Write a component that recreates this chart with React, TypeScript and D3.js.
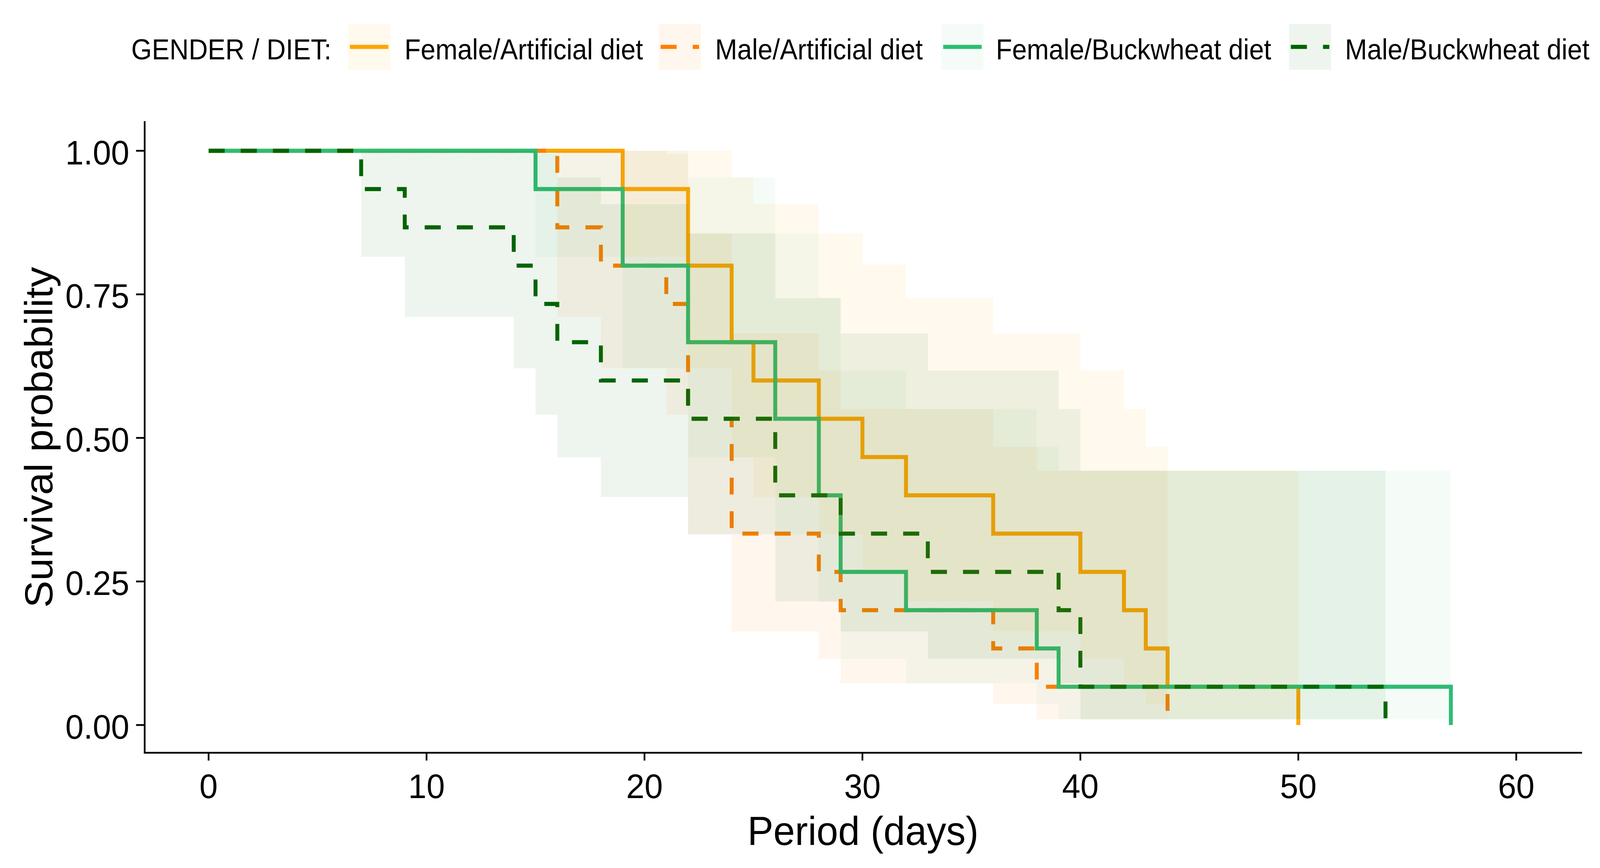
import React from "react";
import * as d3 from "d3";

// ---------- data ----------
const groups = [
  "Female/Artificial diet",
  "Male/Artificial diet",
  "Female/Buckwheat diet",
  "Male/Buckwheat diet",
];
const colors = ["#FFA500", "#FF7F00", "#2EBD74", "#006400"];
const bandOpacity = [0.065, 0.065, 0.048, 0.065];
const dashedLines = [false, true, false, true];

// Female / Artificial diet
const faTime = [0, 19, 22, 24, 25, 28, 30, 32, 36, 40, 42, 43, 44, 50];
const faSurv = [1, 0.9333, 0.8, 0.6667, 0.6, 0.5333, 0.4667, 0.4, 0.3333, 0.2667, 0.2, 0.1333, 0.0667, 0];
const faLower = [1, 0.8153, 0.6212, 0.4661, 0.3969, 0.3322, 0.2717, 0.2152, 0.163, 0.1152, 0.0727, 0.0367, 0.01, null];
const faUpper = [1, 1, 1, 0.9535, 0.907, 0.8562, 0.8016, 0.7435, 0.6818, 0.6172, 0.5503, 0.4845, 0.4428, null];

// Male / Artificial diet
const maTime = [0, 16, 18, 21, 22, 24, 28, 29, 36, 38, 44];
const maSurv = [1, 0.8667, 0.8, 0.7333, 0.5333, 0.3333, 0.2667, 0.2, 0.1333, 0.0667, 0];
const maLower = [1, 0.7106, 0.6212, 0.5404, 0.3322, 0.163, 0.1152, 0.0727, 0.0367, 0.01, null];
const maUpper = [1, 1, 1, 0.9951, 0.8562, 0.6818, 0.6172, 0.5503, 0.4845, 0.4428, null];

// Female / Buckwheat diet
const fbTime = [0, 15, 19, 22, 26, 28, 29, 32, 38, 39, 57];
const fbSurv = [1, 0.9333, 0.8, 0.6667, 0.5333, 0.4, 0.2667, 0.2, 0.1333, 0.0667, 0];
const fbLower = [1, 0.8153, 0.6212, 0.4661, 0.3322, 0.2152, 0.1152, 0.0727, 0.0367, 0.01, null];
const fbUpper = [1, 1, 1, 0.9535, 0.8562, 0.7435, 0.6172, 0.5503, 0.4845, 0.4428, null];

// Male / Buckwheat diet
const mbTime = [0, 7, 9, 14, 15, 16, 18, 22, 26, 29, 33, 39, 40, 54];
const mbSurv = [1, 0.9333, 0.8667, 0.8, 0.7333, 0.6667, 0.6, 0.5333, 0.4, 0.3333, 0.2667, 0.2, 0.0667, 0];
const mbLower = [1, 0.8153, 0.7106, 0.6212, 0.5404, 0.4661, 0.3969, 0.3322, 0.2152, 0.163, 0.1152, 0.0727, 0.01, null];
const mbUpper = [1, 1, 1, 1, 0.9951, 0.9535, 0.907, 0.8562, 0.7435, 0.6818, 0.6172, 0.5503, 0.4428, null];

const xTicks = [0, 10, 20, 30, 40, 50, 60];
const yTicks = [0, 0.25, 0.5, 0.75, 1];
const yTickLabels = ["0.00", "0.25", "0.50", "0.75", "1.00"];
const legendTitle = "GENDER / DIET:";
const xTitle = "Period (days)";
const yTitle = "Survival probability";

// ---------- layout ----------
const W = 4280;
const H = 2222;
const panel = { left: 385, right: 4232, top: 312, bottom: 1927 };
const FONT = "'Liberation Sans', Arial, Helvetica, sans-serif";
const LW = 10.5;
const DASH = "43 43";
const LEG_FONT = 75;
const LEG_SX = 0.945;

const legendBoxX = [931, 1762, 2518, 3448];
const legendLabelX = [1082, 1913, 2664, 3598];

type Series = {
  name: string;
  color: string;
  alpha: number;
  dashed: boolean;
  time: number[];
  surv: number[];
  lower: (number | null)[];
  upper: (number | null)[];
};

const series: Series[] = [
  { time: faTime, surv: faSurv, lower: faLower, upper: faUpper },
  { time: maTime, surv: maSurv, lower: maLower, upper: maUpper },
  { time: fbTime, surv: fbSurv, lower: fbLower, upper: fbUpper },
  { time: mbTime, surv: mbSurv, lower: mbLower, upper: mbUpper },
].map((s, i) => ({
  ...s,
  name: groups[i],
  color: colors[i],
  alpha: bandOpacity[i],
  dashed: dashedLines[i],
}));

function LegendText({ x, y, children }: { x: number; y: number; children: string }) {
  return (
    <g transform={`translate(${x}, ${y}) scale(${LEG_SX}, 1)`}>
      <text x={0} y={0} fontSize={LEG_FONT} fill="#000">
        {children}
      </text>
    </g>
  );
}

export default function App() {
  const x = d3.scaleLinear().domain([0, 60]).range([558, 4056]);
  const y = d3.scaleLinear().domain([0, 1]).range([1856, 386]);

  const line = d3
    .line<{ t: number; s: number }>()
    .curve(d3.curveStepAfter)
    .x((d) => x(d.t))
    .y((d) => y(d.s));

  const area = d3
    .area<{ t: number; lo: number; hi: number }>()
    .curve(d3.curveStepAfter)
    .x((d) => x(d.t))
    .y0((d) => y(d.lo))
    .y1((d) => y(d.hi));

  const ribbonData = (s: Series) => {
    const n = s.time.length;
    const pts: { t: number; lo: number; hi: number }[] = [];
    for (let i = 0; i < n - 1; i++) {
      pts.push({ t: s.time[i], lo: s.lower[i] as number, hi: s.upper[i] as number });
    }
    pts.push({ t: s.time[n - 1], lo: s.lower[n - 2] as number, hi: s.upper[n - 2] as number });
    return pts;
  };

  return (
    <svg
      viewBox={`0 0 ${W} ${H}`}
      preserveAspectRatio="none"
      style={{
        position: "fixed",
        left: 0,
        top: 0,
        width: "100vw",
        height: "100vh",
        background: "#ffffff",
        display: "block",
      }}
      fontFamily={FONT}
    >
      <rect x={0} y={0} width={W} height={H} fill="#ffffff" />

      {/* survival curves */}
      <g>
        {series.map((s) => (
          <path
            key={"line-" + s.name}
            d={line(s.time.map((t, i) => ({ t, s: s.surv[i] }))) || ""}
            fill="none"
            stroke={s.color}
            strokeWidth={LW}
            strokeDasharray={s.dashed ? DASH : undefined}
            strokeLinecap="butt"
            strokeLinejoin="miter"
          />
        ))}
      </g>

      {/* confidence bands (drawn over lines, as survminer does) */}
      <g>
        {series.map((s) => (
          <path
            key={"band-" + s.name}
            d={area(ribbonData(s)) || ""}
            fill={s.color}
            fillOpacity={s.alpha}
            stroke="none"
          />
        ))}
      </g>

      {/* axes */}
      <g stroke="#000" strokeWidth={4.6} fill="none">
        <line x1={387} x2={387} y1={panel.top - 2} y2={panel.bottom + 2} />
        <line x1={panel.left} x2={panel.right} y1={panel.bottom} y2={panel.bottom} />
        {yTicks.map((v) => (
          <line key={"yt" + v} x1={364} x2={387} y1={y(v)} y2={y(v)} />
        ))}
        {xTicks.map((v) => (
          <line key={"xt" + v} x1={x(v)} x2={x(v)} y1={panel.bottom} y2={panel.bottom + 20} />
        ))}
      </g>
      <g fontSize={88} fill="#000">
        {yTicks.map((v, i) => (
          <text key={"yl" + v} x={346} y={y(v) + 35} textAnchor="end">
            {yTickLabels[i]}
          </text>
        ))}
        {xTicks.map((v) => (
          <text key={"xl" + v} x={x(v)} y={2043} textAnchor="middle">
            {String(v)}
          </text>
        ))}
      </g>

      {/* axis titles */}
      <text x={(panel.left + panel.right) / 2} y={2163} textAnchor="middle" fontSize={104} fill="#000">
        {xTitle}
      </text>
      <text
        transform={`translate(140, ${(panel.top + panel.bottom) / 2}) rotate(-90)`}
        textAnchor="middle"
        fontSize={104}
        fill="#000"
      >
        {yTitle}
      </text>

      {/* legend */}
      <g>
        <LegendText x={351} y={152}>
          {legendTitle}
        </LegendText>
        {series.map((s, i) => (
          <g key={"leg-" + s.name}>
            <rect x={legendBoxX[i]} y={61} width={113} height={118} fill={s.color} fillOpacity={s.alpha} />
            <line
              x1={legendBoxX[i] + 5}
              x2={legendBoxX[i] + 108}
              y1={120}
              y2={120}
              stroke={s.color}
              strokeWidth={LW}
              strokeDasharray={s.dashed ? DASH : undefined}
            />
            <LegendText x={legendLabelX[i]} y={152}>
              {s.name}
            </LegendText>
          </g>
        ))}
      </g>
    </svg>
  );
}
